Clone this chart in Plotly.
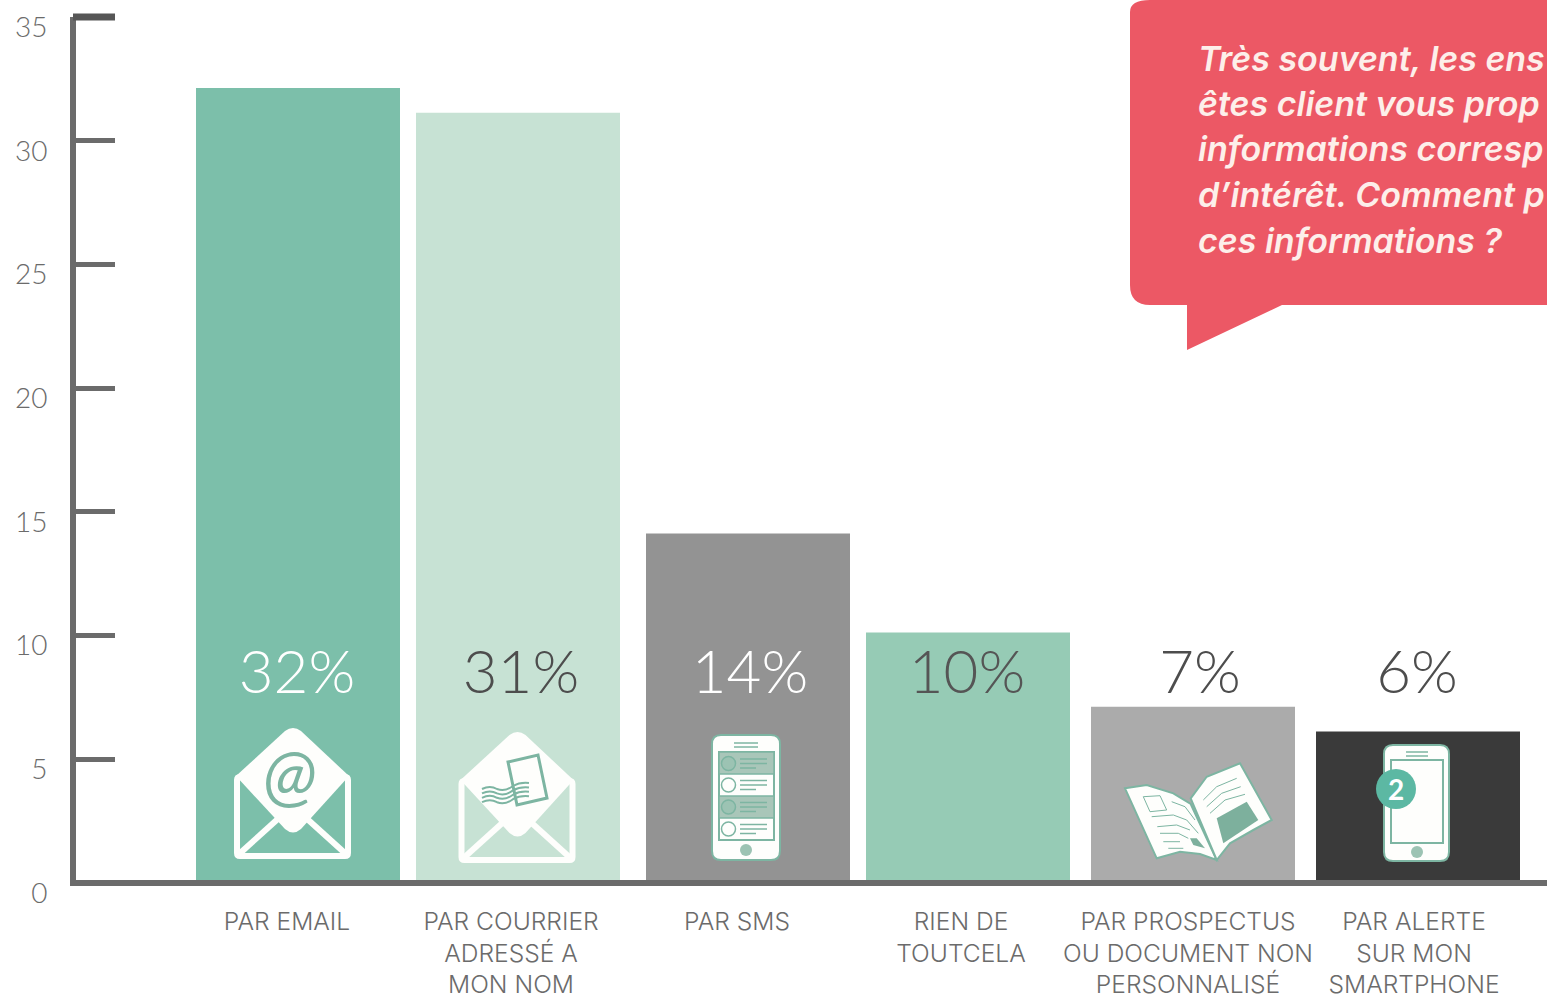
import re
import plotly.graph_objects as go

# Survey answers, in percent
categories = [
    "PAR EMAIL",
    "PAR COURRIER<br>ADRESSÉ A<br>MON NOM",
    "PAR SMS",
    "RIEN DE<br>TOUTCELA",
    "PAR PROSPECTUS<br>OU DOCUMENT NON<br>PERSONNALISÉ",
    "PAR ALERTE<br>SUR MON<br>SMARTPHONE",
]
values = [32, 31, 14, 10, 7, 6]
y_ticks = [0, 5, 10, 15, 20, 25, 30, 35]
question_lines = [
    "Très souvent, les ens",
    "êtes client vous prop",
    "informations corresp",
    "d’intérêt. Comment p",
    "ces informations ?",
]

# Layout of the page, in pixels
W, H = 1547, 997
BAR_WIDTH = 204
bar_centres = [298, 518, 748, 968, 1193, 1418]
label_centres = [287, 511, 737, 961, 1188, 1414]
value_centres = [297, 521, 750, 967, 1200, 1417]
BAR_BASE_PX, AXIS_ZERO_PX, AXIS_TOP_PX, UNIT_PX = 880, 883, 17, 24.75
AXIS_LEFT_PX = 76
VALUE_LABEL_LEVEL = 8.3

# Colours
bar_colours = ["#7CBFAA", "#C7E2D4", "#939393", "#96CBB5", "#ABABAB", "#3A3A3A"]
value_colours = ["#FFFFFF", "#4D4D4D", "#FFFFFF", "#555555", "#4D4D4D", "#4D4D4D"]
AXIS = "#6B6B6B"
RED = "#EC5865"
WHITE = "#FEFEFC"
TEAL = "#7DB5A2"
TEAL_SOFT = "#9CC3B3"
BADGE = "#5CB8A3"
FONT = "Lato"
WIDE_FONT = "Inter"


def to_paper(d):
    """Convert an SVG path written in page pixels to paper fractions."""
    out, is_x = [], True
    for tok in re.findall(r"[A-Za-z]|-?\d+\.?\d*", d):
        if tok.isalpha():
            out.append(tok)
        else:
            v = float(tok)
            out.append(f"{v / W:.5f}" if is_x else f"{1 - v / H:.5f}")
            is_x = not is_x
    return " ".join(out)


def path(d, fill=None, line=None, width=0):
    shape = dict(type="path", xref="paper", yref="paper", path=to_paper(d), layer="above")
    shape["fillcolor"] = fill if fill else "rgba(0,0,0,0)"
    shape["line"] = dict(color=line, width=width) if line else dict(width=0)
    return shape


def circle(cx, cy, r, fill=None, line=None, width=0):
    return dict(
        type="circle", xref="paper", yref="paper", layer="above",
        x0=(cx - r) / W, x1=(cx + r) / W, y0=1 - (cy + r) / H, y1=1 - (cy - r) / H,
        fillcolor=fill if fill else "rgba(0,0,0,0)",
        line=dict(color=line, width=width) if line else dict(width=0),
    )


def round_rect(x0, y0, x1, y1, r):
    return (
        f"M {x0 + r} {y0} L {x1 - r} {y0} Q {x1} {y0} {x1} {y0 + r} L {x1} {y1 - r} "
        f"Q {x1} {y1} {x1 - r} {y1} L {x0 + r} {y1} Q {x0} {y1} {x0} {y1 - r} "
        f"L {x0} {y0 + r} Q {x0} {y0} {x0 + r} {y0} Z"
    )


def envelope(dx, dy):
    """Open envelope with its letter flap."""
    ln = dict(line=WHITE, width=6)
    return [
        path(round_rect(237 + dx, 777 + dy, 348 + dx, 856 + dy, 3), **ln),
        path(f"M {238 + dx} {855 + dy} L {280 + dx} {817 + dy}", **ln),
        path(f"M {347 + dx} {855 + dy} L {305 + dx} {817 + dy}", **ln),
        path(
            f"M {285 + dx} {731 + dy} Q {293 + dx} {725 + dy} {301 + dx} {731 + dy} "
            f"L {349 + dx} {776 + dy} L {301 + dx} {829 + dy} Q {293 + dx} {836 + dy} {285 + dx} {829 + dy} "
            f"L {236 + dx} {776 + dy} Z",
            fill=WHITE,
        ),
    ]


def postmark():
    shapes = [path("M 508 762 L 538 755 L 547 798 L 517 805 Z", line=TEAL, width=3)]
    for i in range(4):
        o = i * 4.4
        shapes.append(path(
            f"M {482} {789 + o} Q {490} {785 + o} {497} {789 + o} Q {505} {792 + o} {513} {786 + o} "
            f"Q {520} {782 + o} {529} {783 + o}",
            line=TEAL, width=2,
        ))
    return shapes


def sms_phone():
    shapes = [
        path(round_rect(712, 735, 780, 860, 9), fill=WHITE, line=TEAL, width=2),
        path("M 734 743 L 758 743", line=TEAL, width=1.5),
        path("M 734 747 L 758 747", line=TEAL, width=1.5),
        path("M 719 752 L 774 752 L 774 840 L 719 840 Z", fill=WHITE, line=TEAL, width=2),
        path("M 719 752 L 774 752 L 774 774 L 719 774 Z", fill="#A9C6B9", line=TEAL, width=1.5),
        path("M 719 796 L 774 796 L 774 818 L 719 818 Z", fill="#A9C6B9", line=TEAL, width=1.5),
    ]
    for row, y in enumerate([763.5, 785, 807, 829]):
        filled = row % 2 == 0
        shapes.append(circle(728.5, y, 7, fill=TEAL_SOFT if filled else WHITE, line=TEAL, width=1.5))
        for j, end in enumerate([767, 767, 756]):
            ly = y - 4.5 + j * 4.5
            shapes.append(path(f"M 740 {ly} L {end} {ly}", line=TEAL, width=1.5))
    shapes.append(circle(746, 850, 6, fill=TEAL_SOFT))
    return shapes


def book():
    def z(pts):
        return [f"{1080 + x / 3:.1f} {630 + y / 3:.1f}" for x, y in pts]

    def poly(pts):
        p = z(pts)
        return "M " + " L ".join(p) + " Z"

    def stroke(pts):
        return "M " + " L ".join(z(pts))

    shapes = [
        path(poly([(135, 475), (200, 465), (280, 490), (332, 522), (410, 690), (360, 672),
                   (300, 665), (230, 685)]), fill=WHITE, line=TEAL, width=2),
        path(poly([(332, 505), (380, 440), (480, 400), (575, 570), (520, 600), (450, 640),
                   (410, 690)]), fill=WHITE, line=TEAL, width=2),
        path(poly([(410, 565), (500, 515), (535, 570), (430, 640)]), fill="#7DB09D"),
        path(poly([(190, 500), (240, 497), (260, 540), (210, 545)]), line=TEAL, width=1),
        path(poly([(330, 625), (350, 625), (375, 655), (340, 645)]), fill="#7DB09D"),
    ]
    for pts in [
        [(370, 510), (410, 470), (470, 445)],
        [(380, 530), (425, 490), (482, 470)],
        [(390, 550), (435, 510), (495, 493)],
        [(275, 515), (315, 530), (345, 570)],
        [(215, 560), (280, 555), (320, 570), (355, 610)],
        [(232, 590), (290, 585), (330, 600)],
        [(240, 610), (295, 610), (325, 625)],
        [(250, 635), (300, 635)],
        [(265, 655), (310, 655)],
    ]:
        shapes.append(path(stroke(pts), line=TEAL, width=1))
    return shapes


def alert_phone():
    return [
        path(round_rect(1384, 745, 1449, 861, 9), fill=WHITE, line=TEAL, width=2),
        path("M 1406 752 L 1428 752", line=TEAL, width=1.5),
        path("M 1406 756 L 1428 756", line=TEAL, width=1.5),
        path("M 1391 760 L 1443 760 L 1443 843 L 1391 843 Z", line=TEAL, width=2),
        circle(1417, 852, 6, fill=TEAL_SOFT),
        circle(1396, 789, 20, fill=BADGE),
    ]


fig = go.Figure()

fig.add_trace(go.Bar(
    x=bar_centres, y=values, width=BAR_WIDTH,
    marker=dict(color=bar_colours, line=dict(width=0)),
    hoverinfo="skip", xaxis="x", yaxis="y",
))
fig.add_trace(go.Scatter(
    x=value_centres, y=[VALUE_LABEL_LEVEL] * len(values),
    text=[f"{v}%" for v in values], mode="text",
    textposition="middle center",
    textfont=dict(family=FONT, size=60, color=value_colours, weight=300),
    hoverinfo="skip", xaxis="x", yaxis="y2", cliponaxis=False,
))

# Speech bubble, drawn running off the right edge, with its tail
shapes = [
    path(
        "M 1150 0 L 1560 0 L 1560 305 L 1282 305 L 1187 350 L 1187 305 L 1150 305 "
        "Q 1130 305 1130 285 L 1130 12 Q 1130 0 1150 0 Z",
        fill=RED,
    ),
    # Heavier tick closing the top of the value axis
    path("M 73 17 L 115 17", line="#565656", width=7),
    # Square corner where the two axes meet
    path("M 70 883 L 80 883", line=AXIS, width=6),
]
shapes += envelope(0, 0) + envelope(224.5, 4) + postmark() + sms_phone() + book() + alert_phone()

annotations = [
    dict(
        xref="paper", yref="paper", x=1196 / W, y=1 - (58 + i * 45.5) / H,
        xanchor="left", yanchor="middle", showarrow=False, align="left", text=line,
        font=dict(family=WIDE_FONT, size=34, color="#FDEFEA", weight=600, style="italic"),
    )
    for i, line in enumerate(question_lines)
]
annotations += [
    dict(xref="paper", yref="paper", x=290 / W, y=1 - 773 / H, showarrow=False,
         xanchor="center", yanchor="middle",
         text="@", font=dict(family=FONT, size=70, color=TEAL, style="italic", weight=400)),
    dict(xref="paper", yref="paper", x=1396 / W, y=1 - 789 / H, showarrow=False,
         xanchor="center", yanchor="middle",
         text="2", font=dict(family=FONT, size=28, color="#FFFFFF", weight=700)),
]

fig.update_layout(
    width=W, height=H,
    margin=dict(l=0, r=0, t=0, b=0),
    paper_bgcolor="white", plot_bgcolor="rgba(0,0,0,0)",
    showlegend=False,
    shapes=shapes,
    annotations=annotations,
    xaxis=dict(
        domain=[AXIS_LEFT_PX / W, 1], range=[AXIS_LEFT_PX, W], anchor="y", automargin=False,
        tickmode="array", tickvals=label_centres, ticktext=categories,
        tickangle=0, ticks="", ticklabelstandoff=14, ticklabeloverflow="allow",
        tickfont=dict(family=WIDE_FONT, size=24.6, color=AXIS, weight=300),
        showline=True, linecolor=AXIS, linewidth=6, showgrid=False, zeroline=False,
        fixedrange=True,
    ),
    # Bars stand on the top edge of the horizontal rule
    yaxis=dict(
        domain=[1 - BAR_BASE_PX / H, 1], range=[0, BAR_BASE_PX / UNIT_PX], anchor="x",
        visible=False, fixedrange=True, automargin=False,
    ),
    # Visible value scale, with its labels set just under each tick
    yaxis2=dict(
        domain=[1 - AXIS_ZERO_PX / H, 1 - AXIS_TOP_PX / H], range=[0, 35], anchor="x",
        automargin=False,
        tickmode="array", tickvals=y_ticks, ticks="inside", ticklen=39, tickwidth=5,
        tickcolor=AXIS, ticklabelstandoff=17, ticklabelshift=10,
        tickfont=dict(family=FONT, size=28, color=AXIS, weight=300),
        showline=True, linecolor=AXIS, linewidth=6, showgrid=False, zeroline=False,
        ticklabeloverflow="allow", fixedrange=True,
    ),
)

fig.write_html("out.html", config=dict(displayModeBar=False))
